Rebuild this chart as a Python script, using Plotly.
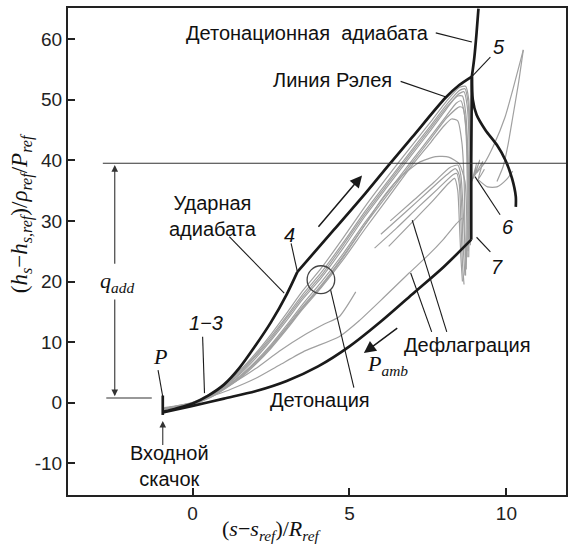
import plotly.graph_objects as go

# ---------------- data ----------------
shock_x = [-0.95, -0.5, 0.0, 0.5, 1.0, 1.5, 2.0, 2.5, 3.0, 3.34]
shock_y = [-1.5, -0.9, -0.1, 1.2, 3.0, 5.8, 9.4, 13.3, 17.9, 21.6]

rayleigh_x = [3.34, 4.5, 5.5, 6.25, 7.0, 8.06, 8.5, 8.9]
rayleigh_y = [21.6, 28.5, 34.5, 39.2, 43.8, 50.3, 52.4, 53.8]

det_top_x = [9.11, 9.05, 8.98, 8.9]
det_top_y = [65.0, 61.0, 57.0, 53.8]

vert_x = [8.9, 8.88, 8.88]
vert_y = [53.8, 40.0, 26.9]

scurve_x = [8.9, 8.93, 9.05, 9.33, 9.7, 9.97, 10.18, 10.3, 10.3]
scurve_y = [53.8, 50.0, 47.5, 45.0, 42.5, 40.0, 37.0, 34.0, 32.3]

pamb_x = [-0.95, 0.0, 1.0, 2.0, 3.0, 4.0, 5.0, 6.0, 7.0, 8.0, 8.88]
pamb_y = [-1.6, -0.5, 0.7, 1.9, 3.6, 6.0, 9.3, 13.4, 17.9, 22.4, 26.9]

inlet_x = [-0.95, -0.95]
inlet_y = [-2.0, 1.2]

# gray trajectories – detonation bundle
b1_x = [-0.9, 0.0, 0.5, 1.0, 1.5, 2.0, 2.5, 3.0, 3.5, 4.1, 4.8, 5.5, 6.2, 7.0, 7.6, 8.1, 8.45, 8.65, 8.75, 8.8, 8.82, 8.82, 8.8]
b1_y = [-1.0, -0.2, 0.9, 2.6, 4.7, 7.3, 10.3, 13.6, 17.0, 20.6, 25.5, 30.8, 35.6, 41.0, 45.0, 48.5, 50.8, 51.3, 49.0, 45.0, 38.0, 30.0, 24.0]
b2_x = [-0.9, 0.0, 0.5, 1.0, 1.5, 2.0, 2.5, 3.0, 3.5, 4.1, 4.8, 5.5, 6.2, 7.0, 7.6, 8.1, 8.4, 8.55, 8.65, 8.72, 8.75, 8.75, 8.72]
b2_y = [-0.9, -0.1, 1.0, 2.5, 4.4, 6.8, 9.6, 12.8, 16.2, 19.9, 24.6, 29.8, 34.6, 40.0, 44.0, 47.4, 49.4, 49.8, 48.0, 44.0, 37.0, 29.0, 22.0]
b3_x = [-0.9, 0.0, 0.5, 1.0, 1.5, 2.0, 2.5, 3.0, 3.5, 4.1, 4.8, 5.5, 6.2, 7.0, 7.6, 8.1, 8.5, 8.68, 8.78, 8.83, 8.85, 8.85]
b3_y = [-0.8, 0.0, 1.2, 2.9, 5.1, 7.8, 10.9, 14.3, 17.8, 21.5, 26.4, 31.6, 36.4, 41.8, 45.8, 49.2, 51.5, 51.8, 49.5, 44.0, 35.0, 26.0]
b4_x = [-0.9, 0.0, 0.5, 1.0, 1.5, 2.0, 2.5, 3.0, 3.5, 4.1, 4.8, 5.5, 6.2, 7.0, 7.6, 8.0, 8.25, 8.45, 8.58, 8.65, 8.68, 8.7]
b4_y = [-1.1, -0.3, 0.7, 2.2, 4.0, 6.3, 9.0, 12.1, 15.4, 19.0, 23.6, 28.7, 33.6, 39.2, 43.0, 45.6, 46.8, 46.5, 43.0, 37.0, 28.0, 21.0]
b5_x = [-0.9, 0.0, 0.5, 1.0, 1.5, 2.0, 2.5, 3.0, 3.5, 4.1, 4.8, 5.5, 6.2, 7.0, 7.6, 8.1, 8.5, 8.62, 8.7, 8.76, 8.78, 8.78]
b5_y = [-1.0, -0.2, 0.8, 2.4, 4.3, 6.6, 9.4, 12.5, 15.8, 19.4, 24.2, 29.4, 34.2, 39.6, 43.6, 47.0, 48.8, 48.6, 46.0, 41.0, 33.0, 25.0]
b6_x = [-0.9, 0.0, 0.5, 1.0, 1.5, 2.0, 2.5, 3.0, 3.5, 4.1, 4.8, 5.5, 6.2, 7.0, 7.6, 8.1, 8.5, 8.7, 8.8, 8.84, 8.86]
b6_y = [-0.9, 0.1, 1.3, 3.0, 5.3, 8.1, 11.3, 14.8, 18.4, 22.2, 27.2, 32.4, 37.2, 42.5, 46.4, 49.8, 52.0, 52.2, 50.0, 43.0, 30.0]
b7_x = [-0.9, 0.0, 0.5, 1.0, 1.5, 2.0, 2.5, 3.0, 3.5, 4.1, 4.8, 5.5, 6.0, 6.5, 7.2, 7.75, 8.16, 8.5, 8.68, 8.74, 8.75]
b7_y = [-1.0, -0.2, 0.8, 2.3, 4.1, 6.5, 9.2, 12.3, 15.6, 19.2, 24.0, 29.4, 33.4, 36.6, 39.6, 40.6, 40.5, 39.4, 36.5, 30.0, 24.0]
b8_x = [-0.9, 0.0, 0.5, 1.0, 1.5, 2.0, 2.5, 3.0, 3.5, 4.1, 4.8, 5.5, 6.2, 7.0, 7.6, 8.1, 8.45, 8.6, 8.7, 8.76, 8.8, 8.8]
b8_y = [-0.95, 0.0, 1.1, 2.7, 4.9, 7.6, 10.6, 14.0, 17.4, 21.0, 26.0, 31.2, 36.0, 41.4, 45.4, 48.8, 50.6, 50.6, 48.0, 43.0, 34.0, 27.0]

# gray trajectories – deflagration
g1_x = [0.3, 1.2, 2.0, 2.76, 3.6, 4.67, 5.3, 6.1, 6.9, 7.5, 8.0, 8.4, 8.6]
g1_y = [0.5, 2.2, 4.0, 6.2, 8.6, 10.9, 13.5, 17.4, 21.4, 24.3, 27.0, 29.5, 30.5]
g2_x = [0.3, 1.2, 2.0, 2.76, 3.6, 4.2, 4.67, 5.2]
g2_y = [0.8, 3.0, 5.6, 8.5, 11.3, 13.0, 14.2, 18.3]
f1_x = [6.25, 7.0, 7.6, 8.16, 8.35, 8.45, 8.5, 8.55, 8.6]
f1_y = [25.8, 29.8, 33.0, 36.2, 37.0, 35.0, 30.0, 24.0, 20.0]
f2_x = [5.8, 6.5, 7.2, 7.8, 8.3, 8.42, 8.5, 8.55, 8.6, 8.65]
f2_y = [25.5, 28.8, 32.3, 35.2, 37.6, 37.8, 36.0, 30.0, 23.0, 19.5]
f3_x = [6.0, 6.8, 7.5, 8.1, 8.38, 8.5, 8.58, 8.62, 8.68]
f3_y = [27.8, 31.5, 34.8, 37.6, 38.6, 37.5, 32.0, 26.0, 21.0]
f4_x = [6.3, 7.0, 7.7, 8.2, 8.45, 8.55, 8.62, 8.7]
f4_y = [30.0, 33.2, 36.4, 38.8, 39.2, 37.5, 32.0, 24.0]

# gray trajectories – right of the detonation adiabat
v1_x = [9.05, 9.3, 9.6, 9.95, 10.25, 10.54]
v1_y = [37.9, 39.5, 42.5, 47.0, 52.5, 58.2]
v2_x = [9.7, 9.9, 10.05, 10.2, 10.38, 10.54]
v2_y = [36.5, 39.0, 42.5, 47.0, 52.5, 58.2]
r1_x = [9.1, 9.4, 9.7, 10.0, 10.2]
r1_y = [36.8, 35.6, 35.6, 36.8, 38.2]
c6_x = [8.9, 9.05, 8.95, 9.15, 9.0, 9.25, 9.1, 9.3]
c6_y = [36.5, 39.5, 37.0, 40.0, 37.5, 39.8, 36.8, 38.5]

y_ticks = [-10, 0, 10, 20, 30, 40, 50, 60]
y_tick_text = ["-10", "0", "10", "20", "30", "40", "50", "60"]
x_ticks = [0, 5, 10]
x_tick_text = ["0", "5", "10"]

q_add_level = 39.5
ref_level = 0.8

# ---------------- figure ----------------
BLACK = "#1a1a1a"
GRAY = "#a0a0a0"
SANS = "Liberation Sans, Arial, sans-serif"
SERIF = "Liberation Serif, Times New Roman, serif"
FS = 20

fig = go.Figure()

gray_curves = [(b1_x, b1_y), (b2_x, b2_y), (b3_x, b3_y), (b4_x, b4_y), (b5_x, b5_y),
               (b6_x, b6_y), (b7_x, b7_y), (b8_x, b8_y), (g1_x, g1_y), (g2_x, g2_y), (f1_x, f1_y),
               (f2_x, f2_y), (f3_x, f3_y), (f4_x, f4_y), (v1_x, v1_y), (v2_x, v2_y),
               (r1_x, r1_y), (c6_x, c6_y)]
for gx, gy in gray_curves:
    fig.add_trace(go.Scatter(x=gx, y=gy, mode="lines", line=dict(color=GRAY, width=1.2, shape="spline", smoothing=0.6),
                             showlegend=False, hoverinfo="skip"))

black_curves = [(shock_x, shock_y), (rayleigh_x, rayleigh_y), (det_top_x, det_top_y),
                (vert_x, vert_y), (scurve_x, scurve_y), (pamb_x, pamb_y), (inlet_x, inlet_y)]
for bx, by in black_curves:
    fig.add_trace(go.Scatter(x=bx, y=by, mode="lines", line=dict(color=BLACK, width=2.7, shape="spline", smoothing=0.8),
                             showlegend=False, hoverinfo="skip"))

shapes = []
# reference horizontal lines
shapes.append(dict(type="line", xref="x", yref="y", x0=-2.86, x1=11.9, y0=q_add_level, y1=q_add_level,
                   line=dict(color="#333333", width=1.1)))
shapes.append(dict(type="line", xref="x", yref="y", x0=-2.75, x1=-1.3, y0=ref_level, y1=ref_level,
                   line=dict(color="#333333", width=1.1)))
# circle
shapes.append(dict(type="circle", xref="x", yref="y", x0=4.09 - 0.44, x1=4.09 + 0.44, y0=20.3 - 2.3, y1=20.3 + 2.3,
                   line=dict(color="#444444", width=1.3)))
# leader lines
leaders = [
    ((7.75, 61.0), (8.9, 59.5)),
    ((6.63, 53.0), (8.1, 50.4)),
    ((9.49, 57.0), (8.9, 53.8)),
    ((9.8, 31.0), (9.0, 37.3)),
    ((9.49, 24.9), (9.05, 27.3)),
    ((1.17, 27.4), (2.92, 18.1)),
    ((3.14, 26.3), (3.34, 21.6)),
    ((0.32, 10.9), (0.38, 1.6)),
    ((-1.1, 5.4), (-0.95, 1.0)),
    ((4.4, 18.6), (5.14, 2.5)),
    ((7.0, 30.1), (8.1, 11.7)),
    ((6.95, 21.4), (7.62, 11.7)),
]
for (xa, ya), (xb, yb) in leaders:
    shapes.append(dict(type="line", xref="x", yref="y", x0=xa, y0=ya, x1=xb, y1=yb,
                       line=dict(color=BLACK, width=1.1)))

ann = []
def txt(x, y, s, size=FS, family=SANS, xanchor="center"):
    ann.append(dict(x=x, y=y, xref="x", yref="y", text=s, showarrow=False,
                    font=dict(family=family, size=size, color="#111111"), xanchor=xanchor, yanchor="middle"))

txt(3.65, 61.0, "Детонационная  адиабата")
txt(4.46, 53.2, "Линия Рэлея")
txt(9.75, 58.7, "<i>5</i>")
txt(10.06, 29.0, "<i>6</i>")
txt(9.7, 22.4, "<i>7</i>")
txt(0.65, 30.8, "Ударная<br>адиабата")
txt(3.08, 27.7, "<i>4</i>")
txt(0.44, 13.1, "<i>1−3</i>")
txt(-1.05, 7.6, "<i>P</i>", size=22, family=SERIF)
txt(-2.4, 20.0, "<i>q<sub>add</sub></i>", size=22, family=SERIF)
txt(-0.73, -10.4, "Входной<br>скачок")
txt(4.06, 0.5, "Детонация")
txt(8.73, 9.6, "Дефлаграция")
txt(6.2, 6.3, "<i>P<sub>amb</sub></i>", size=22, family=SERIF)

def arrow(x0, y0, x1, y1, color="#333333", width=1.1, head=2, size=1.2):
    ann.append(dict(x=x1, y=y1, ax=x0, ay=y0, xref="x", yref="y", axref="x", ayref="y", text="",
                    showarrow=True, arrowhead=head, arrowsize=size, arrowwidth=width, arrowcolor=color))

arrow(-2.48, 22.7, -2.48, q_add_level - 0.3)
arrow(-2.48, 17.3, -2.48, ref_level + 0.3)
arrow(-0.95, -7.2, -0.95, -3.0)
arrow(3.97, 28.8, 5.4, 37.5, color=BLACK, width=1.5, head=2, size=1.6)
arrow(6.57, 12.5, 5.46, 8.2, color=BLACK, width=1.5, head=2, size=1.6)

# axis titles
ann.append(dict(x=2.54, y=-0.072, xref="x", yref="paper", showarrow=False,
                text="(<i>s</i>−<i>s<sub>ref</sub></i>)/<i>R<sub>ref</sub></i>",
                font=dict(family=SERIF, size=22, color="#111111"), xanchor="center", yanchor="middle"))
ann.append(dict(x=-0.092, y=31.3, xref="paper", yref="y", showarrow=False, textangle=-90,
                text="(<i>h<sub>s</sub></i>−<i>h<sub>s,ref</sub></i>)/<i>ρ<sub>ref</sub></i>/<i>P<sub>ref</sub></i>",
                font=dict(family=SERIF, size=23, color="#111111"), xanchor="center", yanchor="middle"))

fig.update_layout(
    width=569, height=546,
    margin=dict(l=68, r=1, t=8, b=51),
    paper_bgcolor="white", plot_bgcolor="white",
    shapes=shapes, annotations=ann, showlegend=False,
    xaxis=dict(range=[-3.97, 11.9], tickvals=x_ticks, ticktext=x_tick_text, ticks="inside", ticklen=7,
               tickwidth=1.5, tickcolor="#222", showgrid=False, zeroline=False, showline=True,
               linecolor="#222", linewidth=2, mirror=True,
               tickfont=dict(family=SANS, size=19, color="#222")),
    yaxis=dict(range=[-15.2, 65.1], tickvals=y_ticks, ticktext=y_tick_text, ticks="inside", ticklen=7,
               tickwidth=1.5, tickcolor="#222", showgrid=False, zeroline=False, showline=True,
               linecolor="#222", linewidth=2, mirror=True,
               tickfont=dict(family=SANS, size=19, color="#222")),
)

fig.write_html("out.html")
